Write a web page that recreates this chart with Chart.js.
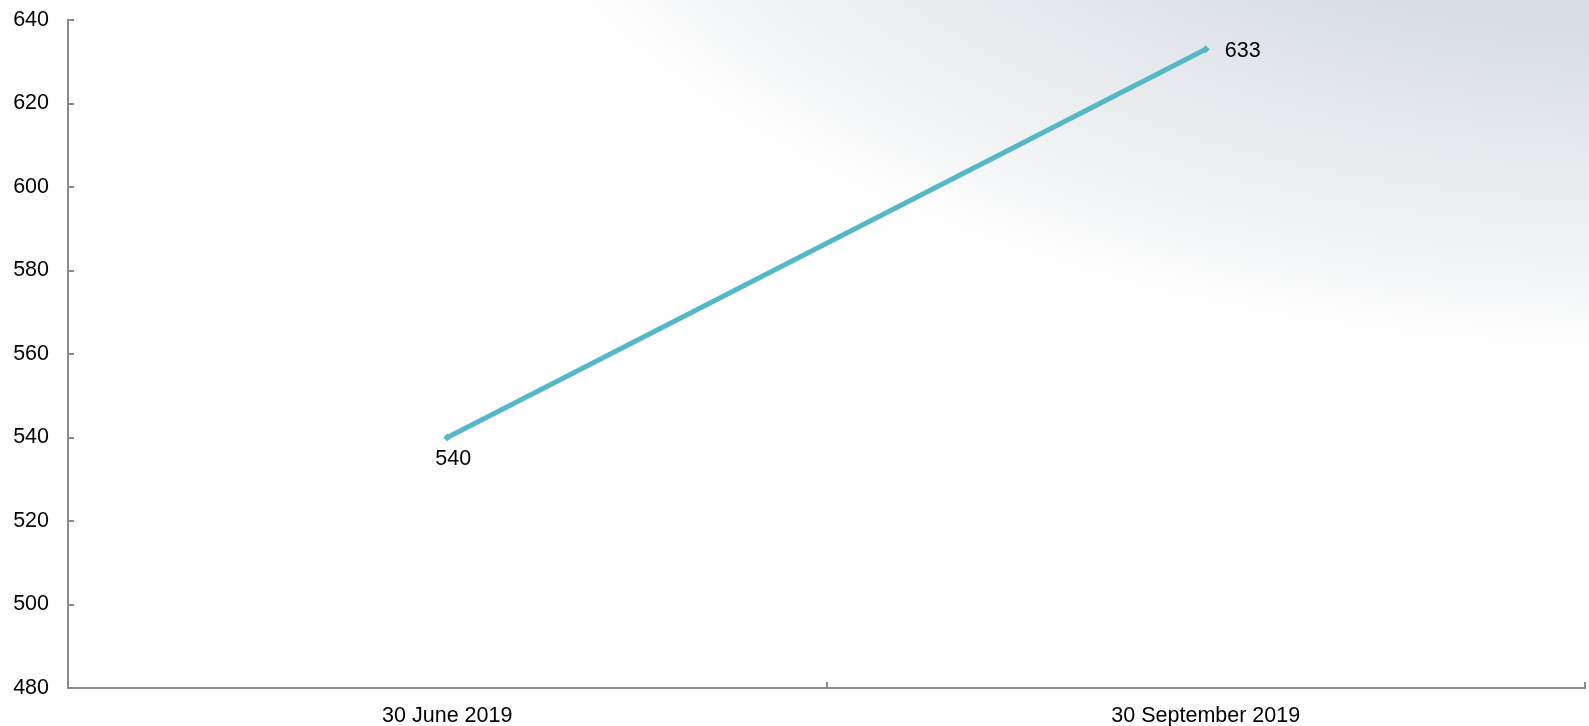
<!DOCTYPE html>
<html>
<head>
<meta charset="utf-8">
<script src="https://cdn.jsdelivr.net/npm/chart.js@4.4.0/dist/chart.umd.min.js"></script>
<style>
  html, body { margin: 0; padding: 0; background: #fff; }
  #wrap { width: 1589px; height: 726px; }
</style>
</head>
<body>
<div id="wrap"><canvas id="myChart" width="1589" height="726"></canvas></div>
<script>
const ctx = document.getElementById('myChart');

// data
const categories = ["30 June 2019", "30 September 2019"];
const values = [540, 633];
const yTicks = [480, 500, 520, 540, 560, 580, 600, 620, 640];

const lineColor = '#56b8c6';
const axisColor = '#8a8a8a';
const font = { family: '"Liberation Sans", Arial, sans-serif', size: 21.5 };

// soft grey sheen in the top right corner
const backdrop = {
  id: 'backdrop',
  beforeDraw(chart) {
    const c = chart.ctx;
    c.save();
    c.fillStyle = '#fff';
    c.fillRect(0, 0, chart.width, chart.height);
    c.translate(chart.width + 60, -330);
    c.scale(1.8, 1);
    const g = c.createRadialGradient(0, 0, 0, 0, 0, 715);
    g.addColorStop(0, '#ccd2d9');
    g.addColorStop(0.5, '#d9dee3');
    g.addColorStop(0.72, '#e9ecef');
    g.addColorStop(0.88, '#f6f7f8');
    g.addColorStop(1, 'rgba(255,255,255,0)');
    c.fillStyle = g;
    c.beginPath();
    c.arc(0, 0, 715, 0, Math.PI * 2);
    c.fill();
    c.restore();
  }
};

// small tick marks pointing into the plot
const innerTicks = {
  id: 'innerTicks',
  afterDraw(chart) {
    const c = chart.ctx;
    const x = chart.scales.x, y = chart.scales.y;
    c.save();
    c.strokeStyle = axisColor;
    c.lineWidth = 2;
    c.beginPath();
    yTicks.forEach(v => {
      const py = Math.round(y.getPixelForValue(v));
      c.moveTo(x.left, py);
      c.lineTo(x.left + 6, py);
    });
    for (let i = 0; i <= categories.length; i++) {
      const px = Math.round(x.left + (x.right - x.left) * i / categories.length);
      c.moveTo(px, y.bottom);
      c.lineTo(px, y.bottom - 6);
    }
    c.stroke();
    c.restore();
  }
};

// value labels next to the points
const valueLabels = {
  id: 'valueLabels',
  afterDatasetsDraw(chart) {
    const c = chart.ctx;
    const meta = chart.getDatasetMeta(0);
    c.save();
    c.font = font.size + 'px ' + font.family;
    c.fillStyle = '#000';
    c.textBaseline = 'middle';
    meta.data.forEach((pt, i) => {
      if (i === 0) {
        c.textAlign = 'center';
        c.fillText(String(values[i]), pt.x + 6, pt.y + 22);
      } else {
        c.textAlign = 'left';
        c.fillText(String(values[i]), pt.x + 19, pt.y + 2);
      }
    });
    c.restore();
  }
};

new Chart(ctx, {
  type: 'line',
  data: {
    labels: categories,
    datasets: [{
      data: values,
      borderColor: lineColor,
      backgroundColor: lineColor,
      borderWidth: 5,
      pointStyle: 'rectRot',
      pointRadius: 4,
      pointBorderWidth: 0,
      fill: false,
      tension: 0
    }]
  },
  options: {
    responsive: false,
    animation: false,
    layout: { padding: { top: 20, right: 1, left: 0, bottom: 0 } },
    plugins: {
      legend: { display: false },
      tooltip: { enabled: false }
    },
    scales: {
      x: {
        offset: true,
        grid: { display: false, drawTicks: false },
        border: { display: true, color: axisColor, width: 2 },
        ticks: { color: '#000', font: font, padding: 15, maxRotation: 0 },
        afterFit(scale) { scale.height = 38; scale.paddingLeft = 0; scale.paddingRight = 0; }
      },
      y: {
        min: 480,
        max: 640,
        afterBuildTicks(scale) { scale.ticks = yTicks.map(v => ({ value: v })); },
        grid: { display: false, drawTicks: false },
        border: { display: true, color: axisColor, width: 2 },
        ticks: { color: '#000', font: font, padding: 19 },
        afterFit(scale) { scale.width = 68; scale.paddingTop = 0; scale.paddingBottom = 0; }
      }
    }
  },
  plugins: [backdrop, innerTicks, valueLabels]
});
</script>
</body>
</html>
